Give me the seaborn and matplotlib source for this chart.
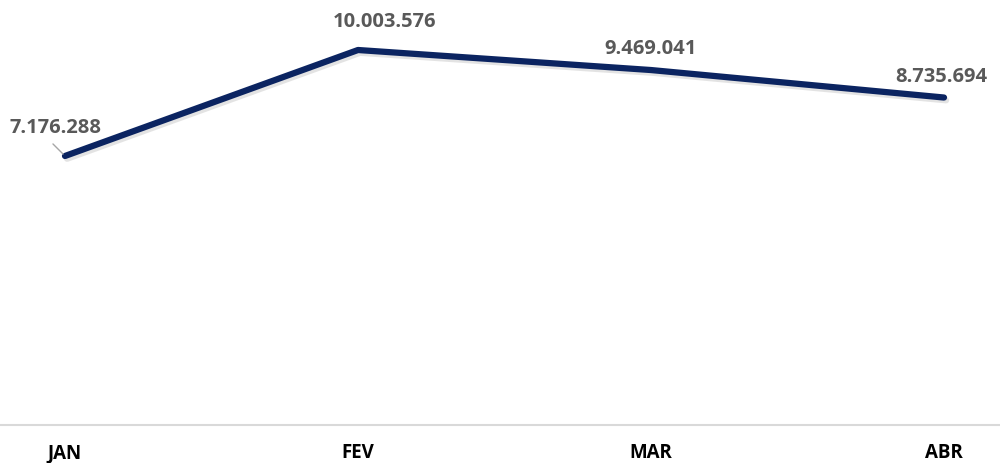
import matplotlib
matplotlib.use("Agg")
import matplotlib.pyplot as plt
import matplotlib.patheffects as pe
import seaborn as sns
import pandas as pd

# dados
meses = ["JAN", "FEV", "MAR", "ABR"]
valores = [7176288, 10003576, 9469041, 8735694]
rotulos = ["7.176.288", "10.003.576", "9.469.041", "8.735.694"]

sns.set_theme(style="white")
plt.rcParams["font.family"] = ["Open Sans", "DejaVu Sans"]

df = pd.DataFrame({"mes": meses, "valor": valores})

fig = plt.figure(figsize=(10, 4.63), dpi=100)
ax = fig.add_axes([0, 38 / 463, 1, 425 / 463])

sns.lineplot(data=df, x="mes", y="valor", ax=ax, color="#0b2461", linewidth=4.5,
             sort=False,
             path_effects=[pe.SimpleLineShadow(offset=(1.5, -2), alpha=0.2, shadow_color="#777777"),
                           pe.Normal()])

ax.set_xlim(-65 / 293, (1000 - 65) / 293)
ax.set_ylim(0, 425 * 10003576 / 375)

# deslocamento dos rotulos (pixels)
desloc = [(-10, 28), (27, 28), (0, 21), (-3, 21)]
for i, (v, txt) in enumerate(zip(valores, rotulos)):
    ax.annotate(txt, (i, v), xytext=desloc[i], textcoords="offset pixels",
                ha="center", va="center", fontsize=14.5, fontweight="bold",
                color="#595959")

# linha guia do JAN
ax.annotate("", (0, valores[0]), xytext=(-14, 14), textcoords="offset pixels",
            arrowprops=dict(arrowstyle="-", color="#a6a6a6", lw=1))

ax.set_xlabel("")
ax.set_ylabel("")
ax.set_yticks([])
for s in ["top", "right", "left"]:
    ax.spines[s].set_visible(False)
ax.spines["bottom"].set_color("#d9d9d9")
ax.spines["bottom"].set_linewidth(1.5)
ax.tick_params(axis="x", length=0, pad=13)
for lbl in ax.get_xticklabels():
    lbl.set_fontweight("bold")
    lbl.set_fontsize(13.5)
    lbl.set_color("#000000")

fig.savefig("out.png", dpi=100, facecolor="white")
